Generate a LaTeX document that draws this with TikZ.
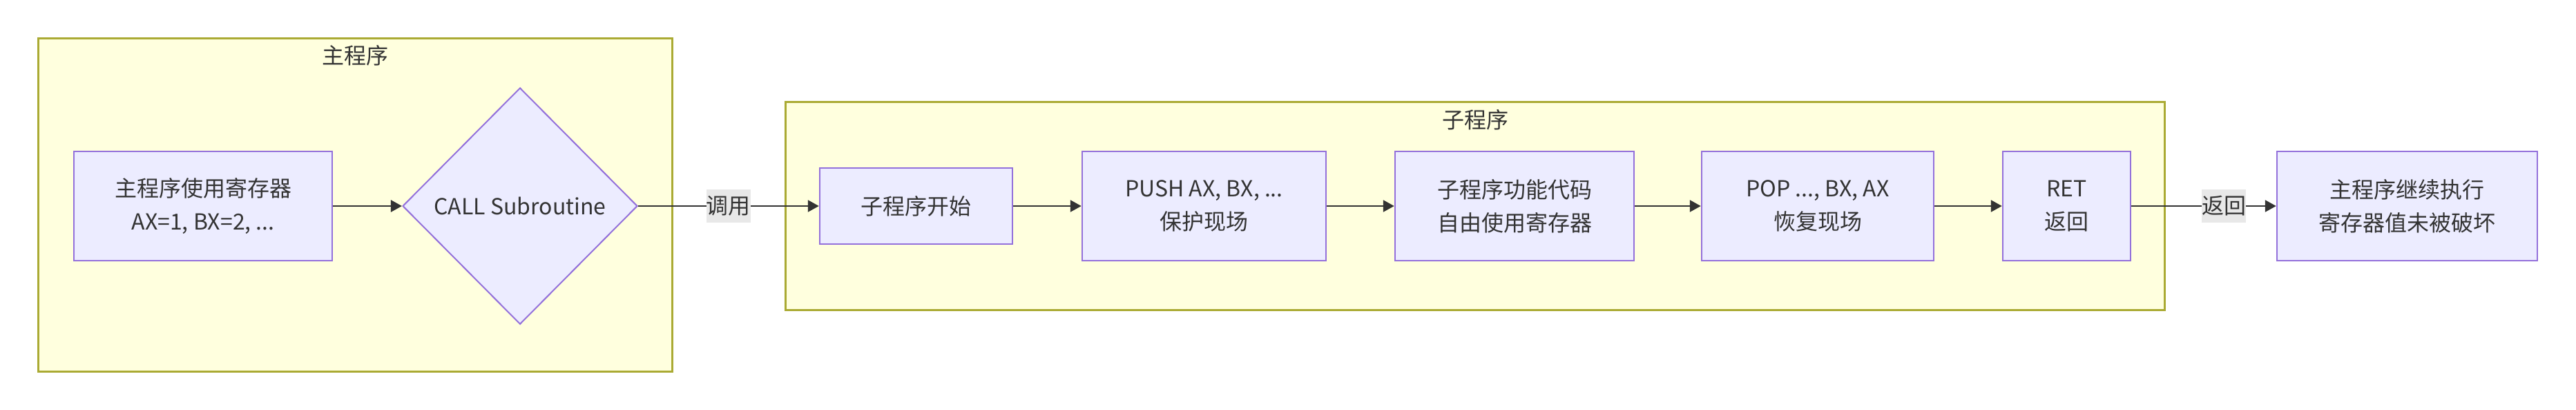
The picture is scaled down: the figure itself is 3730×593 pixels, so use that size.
\documentclass[tikz,border=0pt]{standalone}
\usepackage{fontspec}
\setmainfont{Noto Sans CJK SC}
\usetikzlibrary{shapes.geometric,arrows.meta}
\definecolor{nodefill}{HTML}{ECECFF}
\definecolor{nodestroke}{HTML}{9370DB}
\definecolor{clusterfill}{HTML}{FFFFDE}
\definecolor{clusterstroke}{HTML}{AAAA33}
\definecolor{edgecol}{HTML}{333333}
\definecolor{txt}{HTML}{333333}
\definecolor{lblbg}{HTML}{E8E8E8}
\begin{document}
\begin{tikzpicture}[x=1pt,y=-1pt,
  font=\fontsize{32pt}{48pt}\selectfont, text=txt,
  box/.style={draw=nodestroke, fill=nodefill, line width=2.5pt, align=center, inner sep=0pt, minimum height=158pt},
  decision/.style={diamond, draw=nodestroke, fill=nodefill, line width=2pt, inner sep=0pt, minimum width=340pt, minimum height=342pt, align=center},
  cluster/.style={draw=clusterstroke, fill=clusterfill, line width=3pt},
  edge/.style={draw=edgecol, line width=2.5pt, -{Triangle[length=16pt,width=17pt]}},
  elabel/.style={fill=lblbg, inner xsep=0pt, inner ysep=0pt, minimum height=48pt, text=txt}]

\useasboundingbox (0,0) rectangle (3730,593);
\fill[white] (0,0) rectangle (3730,593);

% clusters
\draw[cluster] (55,56) rectangle (973,537);
\node (t1) at (514,80) {主程序};
\draw[cluster] (1137,148) rectangle (3134,448);
\node (t2) at (2136,173) {子程序};

% nodes
\node[box, minimum width=374pt] (A) at (294,298) {主程序使用寄存器\\AX=1, BX=2, ...};
\node[decision] (D) at (753,298) {CALL Subroutine};
\node[box, minimum width=279pt, minimum height=110pt] (S1) at (1326.5,298) {子程序开始};
\node[box, minimum width=353pt] (PUSH) at (1743.5,298) {PUSH AX, BX, ...\\保护现场};
\node[box, minimum width=346pt] (FUNC) at (2193,298) {子程序功能代码\\自由使用寄存器};
\node[box, minimum width=336pt] (POP) at (2632,298) {POP ..., BX, AX\\恢复现场};
\node[box, minimum width=185pt] (RET) at (2992.5,298) {RET\\返回};
\node[box, minimum width=377pt] (FIN) at (3485.5,298) {主程序继续执行\\寄存器值未被破坏};

% edges
\draw[edge] (A) -- (D);
\draw[edge] (D) -- node[elabel, pos=0.5] {调用} (S1);
\draw[edge] (S1) -- (PUSH);
\draw[edge] (PUSH) -- (FUNC);
\draw[edge] (FUNC) -- (POP);
\draw[edge] (POP) -- (RET);
\draw[edge] (RET) -- node[elabel, pos=0.64] {返回} (FIN);
\end{tikzpicture}
\end{document}
